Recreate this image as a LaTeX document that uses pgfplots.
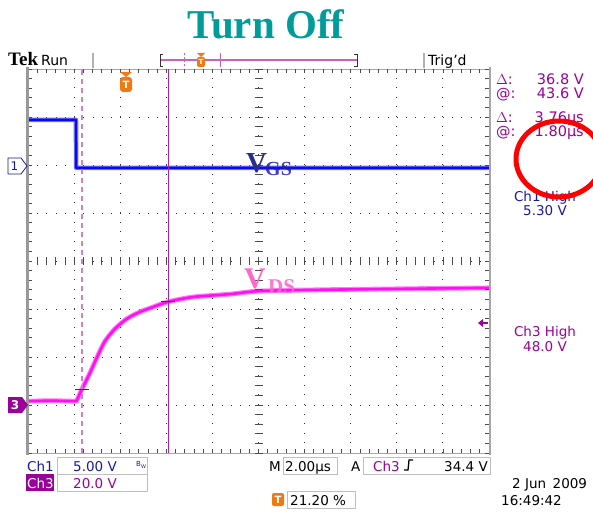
\documentclass[border=0pt]{standalone}
\usepackage{pgfplots}
\pgfplotsset{compat=1.18}
\usepackage{pgfplotstable}
\usepackage{fontspec}
\setmainfont{DejaVu Sans}
\newfontfamily\serifb{Liberation Serif}
\definecolor{chone}{HTML}{0A0AEE}
\definecolor{chonetext}{HTML}{1A1AA0}
\definecolor{chthree}{HTML}{FF10F0}
\definecolor{purp}{HTML}{9A009A}
\definecolor{tealt}{HTML}{009C9C}
\definecolor{orng}{HTML}{F07A10}
\definecolor{cursA}{HTML}{D080D0}
\definecolor{cursB}{HTML}{B020B0}
\definecolor{recbar}{HTML}{C860C8}
\definecolor{vnavy}{HTML}{2B2B8C}
\definecolor{vpink}{HTML}{FF66CC}
\pgfplotstableread{
x y
0 6.94
1.04 6.94
1.045 5.94
10 5.94
}\vgs
\pgfplotstableread{
x y
0 1.08
0.5 1.09
1.00 1.08
1.06 1.10
1.13 1.25
1.17 1.33
1.345 1.67
1.50 2.00
1.67 2.33
1.89 2.59
2.15 2.80
2.43 2.94
2.71 3.04
3.04 3.15
3.58 3.25
4.38 3.31
5.03 3.375
6.33 3.40
8.07 3.42
10 3.44
}\vds
\begin{document}
\begin{tikzpicture}[x=1pt,y=1pt]
\useasboundingbox (0,0) rectangle (593,512);
\begin{axis}[at={(28pt,59pt)}, anchor=south west, scale only axis,
  width=461pt, height=384pt, xmin=0, xmax=10, ymin=0, ymax=8,
  xtick={1,...,9}, ytick={1,...,7}, xticklabels={}, yticklabels={},
  major tick length=0pt, grid=major,
  major x grid style={black!80, line width=1pt, dash pattern=on 1pt off 8.6pt},
  major y grid style={black!80, line width=1pt, dash pattern=on 1pt off 8.22pt},
  axis line style={gray!70, line width=0.6pt}, clip=true]
\addplot[chone!55, line width=4.6pt, line join=round] table[x=x,y=y]{\vgs};
\addplot[chone, line width=2.4pt, line join=round] table[x=x,y=y]{\vgs};
\addplot[chthree!55, line width=4.8pt, smooth, tension=0.45] table[x=x,y=y]{\vds};
\addplot[chthree, line width=2.6pt, smooth, tension=0.45] table[x=x,y=y]{\vds};
\addplot[cursA, line width=2pt, dash pattern=on 5pt off 4pt] coordinates {(1.17,0) (1.17,8)};
\addplot[cursB, line width=1pt] coordinates {(3.04,0) (3.04,8)};
\addplot[purp!80!black, line width=1pt] coordinates {(1.02,1.33) (1.32,1.33)};
\addplot[purp!80!black, line width=1pt] coordinates {(2.89,3.15) (3.19,3.15)};
\end{axis}
% graticule edge/center ticks
\foreach \i in {0,...,50}{
  \draw[black!70, line width=0.7pt] ({28+\i*9.22},59) -- ++(0,4);
  \draw[black!70, line width=0.7pt] ({28+\i*9.22},443) -- ++(0,-4);
  \draw[black!70, line width=0.7pt] ({28+\i*9.22},247) -- ++(0,8);
}
\foreach \j in {0,...,40}{
  \draw[black!70, line width=0.7pt] (28,{59+\j*9.6}) -- ++(4,0);
  \draw[black!70, line width=0.7pt] (489,{59+\j*9.6}) -- ++(-4,0);
  \draw[black!70, line width=0.7pt] (254.5,{59+\j*9.6}) -- ++(8,0);
}
\draw[gray!80, line width=3pt] (27,57.5) -- (27,444.5);
\draw[gray!70, line width=2pt] (489.5,57.5) -- (489.5,444.5);
% title
\node[anchor=base, inner sep=0, text=tealt, font=\serifb\bfseries\fontsize{41}{41}\selectfont] at (266,473) {Turn Off};
% top bar
\node[anchor=base west, inner sep=0, font=\serifb\bfseries\fontsize{19}{19}\selectfont] at (8,446) {Tek};
\node[anchor=base west, inner sep=0, font=\fontsize{14}{14}\selectfont] at (41,446) {Run};
\draw[gray!60, line width=2pt] (93,444) -- (93,459);
\draw[gray!60, line width=2pt] (424,444) -- (424,459);
\node[anchor=base west, inner sep=0, font=\fontsize{14}{14}\selectfont] at (428,446) {Trig'd};
\draw[recbar, line width=1.2pt] (160,452) -- (357,452);
\draw[black!80, line width=0.8pt] (163,458) -- (160,458) -- (160,446) -- (163,446);
\draw[black!80, line width=0.8pt] (354,458) -- (357,458) -- (357,446) -- (354,446);
\draw[recbar, line width=1pt, dash pattern=on 2pt off 1.5pt] (184,446) -- (184,459);
\draw[recbar, line width=1pt] (220,445) -- (220,459);
\fill[orng] (197,459) -- (205,459) -- (201,455) -- cycle;
\fill[orng, rounded corners=2pt] (197,455) rectangle (205,445);
\node[white, font=\bfseries\fontsize{7}{7}\selectfont, inner sep=0] at (201,450) {T};
% trigger marker in graticule
\fill[orng] (120,440) -- (132,440) -- (126,435) -- cycle;
\fill[orng, rounded corners=3pt] (120,435) rectangle (132,420);
\node[white, font=\bfseries\fontsize{10}{10}\selectfont, inner sep=0] at (126,427.5) {T};
% waveform labels
\node[anchor=base west, inner sep=0, text=vnavy, font=\serifb\bfseries\fontsize{29}{29}\selectfont] at (246,339) {V};
\node[anchor=base west, inner sep=0, text=vnavy!70!blue, opacity=0.85, font=\serifb\bfseries\fontsize{20}{20}\selectfont] at (265,336) {GS};
\node[anchor=base west, inner sep=0, text=vpink, font=\serifb\bfseries\fontsize{30}{30}\selectfont] at (244,224) {V};
\node[anchor=base west, inner sep=0, text=vpink, opacity=0.9, font=\serifb\bfseries\fontsize{21}{21}\selectfont] at (268,219) {DS};
% channel markers
\draw[chonetext, fill=white, line width=0.8pt] (8,354) -- (21,354) -- (27,346) -- (21,338) -- (8,338) -- cycle;
\node[chonetext, font=\fontsize{12}{12}\selectfont, inner sep=0] at (14.5,346) {1};
\fill[purp] (8,115) -- (22,115) -- (28,107) -- (22,99) -- (8,99) -- cycle;
\node[white, font=\bfseries\fontsize{12}{12}\selectfont, inner sep=0] at (15,107) {3};
% right arrow (trigger level)
\fill[purp] (478,189) -- (483,193) -- (483,185) -- cycle;
\draw[purp, line width=1.2pt] (482,189) -- (488,189);
% right readouts
\begin{scope}[font=\fontsize{14.5}{14.5}\selectfont, purp]
\node[anchor=base west, inner sep=0] at (496,427) {$\Delta$:};
\node[anchor=base east, inner sep=0] at (584,427) {36.8 V};
\node[anchor=base west, inner sep=0] at (496,413) {@:};
\node[anchor=base east, inner sep=0] at (584,413) {43.6 V};
\node[anchor=base west, inner sep=0] at (496,389) {$\Delta$:};
\node[anchor=base east, inner sep=0] at (584,389) {3.76µs};
\node[anchor=base west, inner sep=0] at (496,375) {@:};
\node[anchor=base east, inner sep=0] at (584,375) {1.80µs};
\end{scope}
\begin{scope}[font=\fontsize{13.5}{13.5}\selectfont]
\node[anchor=base, inner sep=0, chonetext] at (545,311) {Ch1 High};
\node[anchor=base, inner sep=0, chonetext] at (545,297) {5.30 V};
\node[anchor=base, inner sep=0, purp] at (545,176) {Ch3 High};
\node[anchor=base, inner sep=0, purp] at (545,161) {48.0 V};
\end{scope}
\draw[red, line width=5pt] (559,353) ellipse [x radius=43, y radius=38];
% bottom readouts
\begin{scope}[font=\fontsize{13.5}{13.5}\selectfont]
\node[anchor=base west, inner sep=0, chonetext] at (27,41) {Ch1};
\draw[gray!50, line width=0.8pt] (57,55) rectangle (147,38);
\node[anchor=base, inner sep=0, chonetext] at (95,41) {5.00 V};
\node[anchor=base west, inner sep=0, chonetext, font=\fontsize{7}{7}\selectfont] at (136,46) {B\raisebox{-2pt}{\fontsize{5}{5}\selectfont W}};
\fill[purp] (26,38) rectangle (54,21);
\node[anchor=base west, inner sep=0, white] at (27,24) {Ch3};
\draw[gray!50, line width=0.8pt] (57,38) rectangle (147,21);
\node[anchor=base, inner sep=0, purp] at (95,24) {20.0 V};
\node[anchor=base west, inner sep=0] at (269,41) {M};
\draw[gray!50, line width=0.8pt] (283,55) rectangle (337,38);
\node[anchor=base west, inner sep=0] at (285,41) {2.00µs};
\node[anchor=base west, inner sep=0] at (351,41) {A};
\draw[gray!50, line width=0.8pt] (363,55) rectangle (490,38);
\node[anchor=base west, inner sep=0, purp] at (373,41) {Ch3};
\draw[black, line width=1.3pt] (404,42) -- (408,42) -- (409,52) -- (413,52);
\node[anchor=base east, inner sep=0] at (488,41) {34.4 V};
\fill[orng, rounded corners=2pt] (272,6) rectangle (284,19);
\node[white, font=\bfseries\fontsize{10}{10}\selectfont, inner sep=0] at (278,12.5) {T};
\draw[gray!50, line width=0.8pt] (287,21) rectangle (355,4);
\node[anchor=base west, inner sep=0] at (290,7) {21.20 \%};
\node[anchor=base west, inner sep=0] at (512,24) {2 Jun\, 2009};
\node[anchor=base west, inner sep=0] at (501,7) {16:49:42};
\end{scope}
\end{tikzpicture}
\end{document}
